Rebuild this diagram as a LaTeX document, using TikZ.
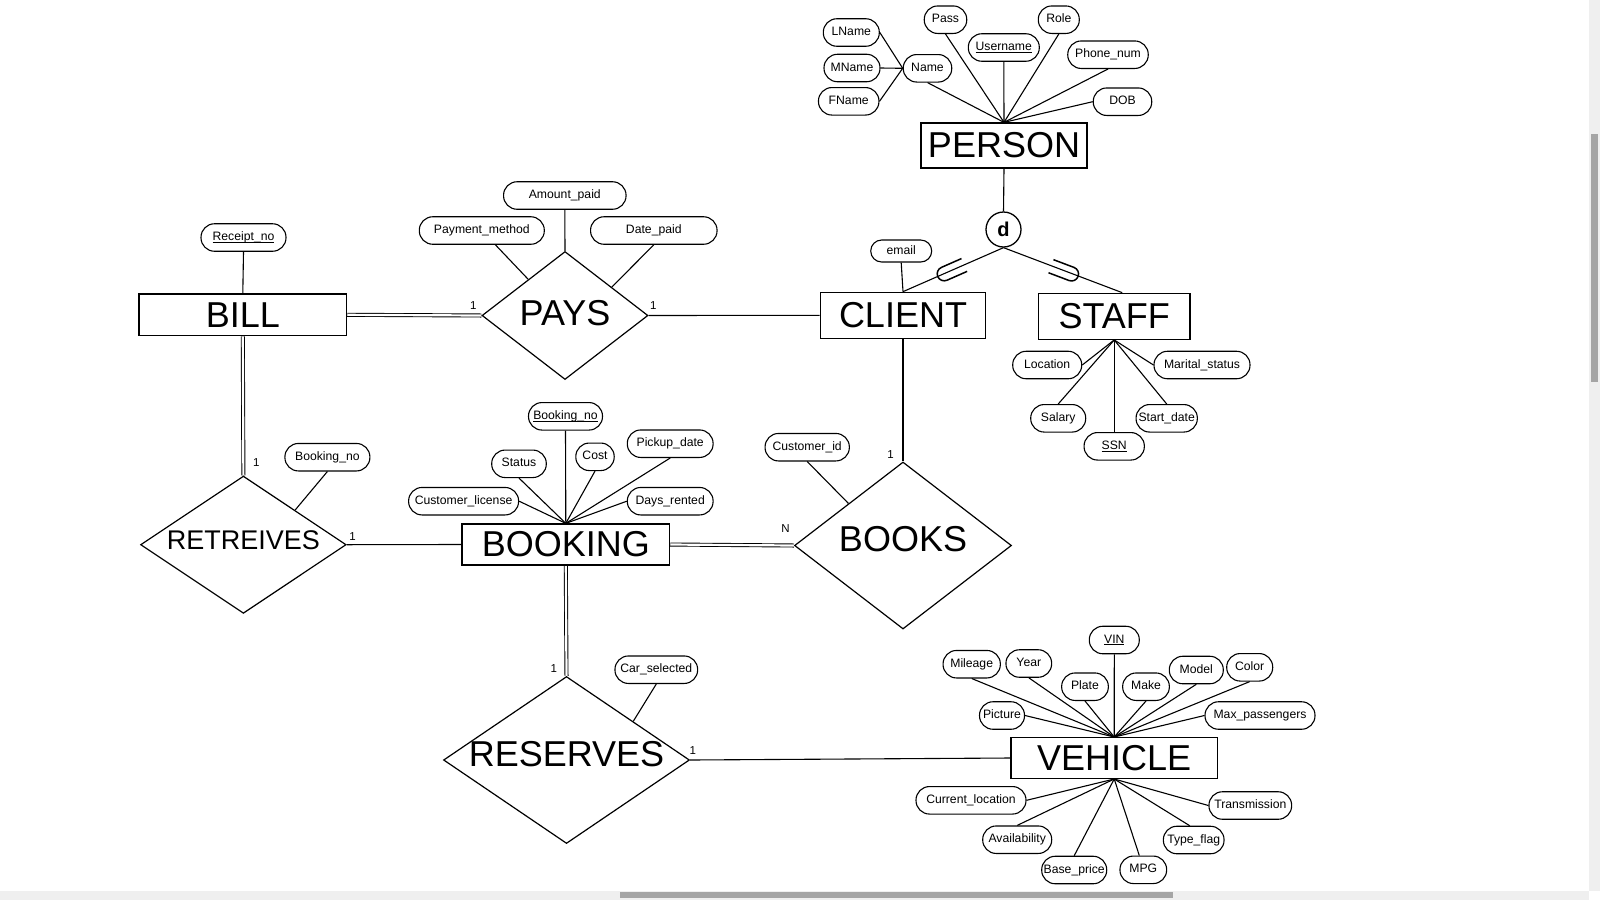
\documentclass[tikz,border=0pt]{standalone}
\usepackage{fontspec}
\setmainfont{Liberation Sans}
\usetikzlibrary{shapes.geometric,calc}
\pgfdeclarelayer{background}
\pgfsetlayers{background,main}
\newsavebox\ulbox
\newcommand\myul[1]{\sbox\ulbox{#1}\rlap{\rule[-2pt]{\wd\ulbox}{0.8pt}}\usebox\ulbox}
\newcommand\attrfont{\fontsize{12.2}{14}\selectfont}
\newcommand\bigfont{\fontsize{36}{40}\selectfont}
\newcommand\retfont{\fontsize{27}{30}\selectfont}
\newcommand\rz[2]{\raisebox{#1}[\height][\depth]{#2}}
\definecolor{sbtrack}{HTML}{EFEFEF}
\definecolor{sbthumb}{HTML}{A5A5A5}
\tikzset{
  attr/.style={draw, fill=white, rectangle, rounded corners=13.5pt, minimum height=27.5pt,
    inner xsep=1pt, inner ysep=0pt, text height=9pt, text depth=3pt, font=\attrfont, line width=1.1pt},
  entity/.style={draw, fill=white, rectangle, inner sep=0pt, font=\bigfont, line width=1.3pt},
  rel/.style={draw, fill=white, diamond, inner sep=0pt, font=\bigfont, line width=1.2pt},
  conn/.style={line width=1.1pt},
  dbl/.style={double, double distance=2.2pt, line width=0.9pt},
  card/.style={font=\fontsize{11.5}{12}\selectfont, inner sep=0pt},
  usym/.style={line width=1.5pt},
}
\begin{document}
\begin{tikzpicture}[x=1pt, y=-1pt]
\useasboundingbox (0,0) rectangle (1600,900);

% ---------- PERSON ----------
\node[entity, minimum width=166pt, minimum height=45pt] (person) at (1004,145.5) {PERSON};
\node[attr, minimum width=56pt] (lname) at (851.3,32.5) {LName};
\node[attr, minimum width=56pt] (mname) at (852,68) {MName};
\node[attr, minimum width=60.5pt] (fname) at (848.7,101.3) {FName};
\node[attr, minimum width=48.5pt] (name) at (927.5,68.3) {Name};
\node[attr, minimum width=42.5pt] (pass) at (945.5,19.7) {Pass};
\node[attr, minimum width=71pt] (uname) at (1003.8,47.5) {\myul{Username}};
\node[attr, minimum width=41pt] (role) at (1058.8,19.7) {Role};
\node[attr, minimum width=80.5pt] (phone) at (1108,54.7) {Phone\_num};
\node[attr, minimum width=58.5pt] (dob) at (1122.5,101.7) {DOB};

\node[circle, draw, fill=white, minimum size=35pt, inner sep=0pt, line width=1.3pt,
  font=\fontsize{20}{22}\selectfont\bfseries] (dnode) at (1003.5,229.5) {d};

% ---------- CLIENT / STAFF ----------
\node[entity, minimum width=165.5pt, minimum height=46pt] (client) at (903,315.3) {CLIENT};
\node[attr, minimum width=61pt, minimum height=22pt, rounded corners=11pt] (email) at (901.2,251) {email};
\node[entity, minimum width=151.7pt, minimum height=46pt] (staff) at (1114.2,316.3) {STAFF};
\node[attr, minimum width=69pt] (loc) at (1047.2,365) {Location};
\node[attr, minimum width=96pt] (marital) at (1202,365) {Marital\_status};
\node[attr, minimum width=55pt] (salary) at (1058.2,418.3) {Salary};
\node[attr, minimum width=61.3pt] (start) at (1166.7,418.3) {Start\_date};
\node[attr, minimum width=60.3pt] (ssn) at (1114.2,446.3) {\myul{SSN}};

% ---------- BILL / PAYS ----------
\node[entity, minimum width=207.6pt, minimum height=41.7pt] (bill) at (242.8,314.8) {BILL};
\node[attr, minimum width=85pt] (receipt) at (243.5,237.5) {\myul{Receipt\_no}};
\node[rel, aspect=1.3, minimum width=166pt, minimum height=128pt] (pays) at (565,315.5) {\rz{2pt}{PAYS}};
\node[attr, minimum width=122.5pt] (amount) at (564.8,195.5) {Amount\_paid};
\node[attr, minimum width=125pt] (pmethod) at (481.8,230.5) {Payment\_method};
\node[attr, minimum width=126.5pt] (dpaid) at (653.8,230.5) {Date\_paid};

% ---------- RETREIVES / BOOKING ----------
\node[rel, aspect=1.5, minimum width=205.6pt, minimum height=137.3pt, font=\retfont] (ret) at (243.4,544.7) {\rz{4.5pt}{RETREIVES}};
\node[attr, minimum width=85pt] (rbno) at (327.4,457.2) {Booking\_no};
\node[entity, minimum width=207.6pt, minimum height=41pt] (booking) at (565.8,544.5) {BOOKING};
\node[attr, minimum width=74pt] (bno) at (565.5,416.3) {\myul{Booking\_no}};
\node[attr, minimum width=54.6pt] (status) at (519,463.8) {Status};
\node[attr, minimum width=38.4pt] (cost) at (595,456.8) {Cost};
\node[attr, minimum width=85.8pt] (pickup) at (670.2,443.7) {Pickup\_date};
\node[attr, minimum width=110pt] (clicense) at (463.6,501.2) {Customer\_license};
\node[attr, minimum width=85.8pt] (days) at (670.2,501.2) {Days\_rented};

% ---------- BOOKS ----------
\node[rel, aspect=1.3, minimum width=217pt, minimum height=167pt] (books) at (903,545.5) {\rz{6pt}{BOOKS}};
\node[attr, minimum width=84.3pt] (cid) at (807.2,447.2) {Customer\_id};

% ---------- RESERVES / VEHICLE ----------
\node[rel, aspect=1.47, minimum width=246pt, minimum height=167pt] (res) at (566.5,760) {\rz{6pt}{RESERVES}};
\node[attr, minimum width=82.7pt] (car) at (656.3,669.7) {Car\_selected};
\node[entity, minimum width=206.3pt, minimum height=40.7pt] (vehicle) at (1114.2,758) {VEHICLE};
\node[attr, minimum width=50pt] (vin) at (1114.3,640) {\myul{VIN}};
\node[attr, minimum width=57.3pt] (mileage) at (971.7,664.2) {Mileage};
\node[attr, minimum width=45.7pt] (year) at (1028.8,663.5) {Year};
\node[attr, minimum width=46.7pt] (plate) at (1085,686.7) {Plate};
\node[attr, minimum width=46.7pt] (make) at (1146,686.7) {Make};
\node[attr, minimum width=54pt] (model) at (1196.3,670) {Model};
\node[attr, minimum width=46pt] (color) at (1249.7,667.3) {Color};
\node[attr, minimum width=45pt] (picture) at (1002,715.5) {Picture};
\node[attr, minimum width=110pt] (maxp) at (1260,715.5) {Max\_passengers};
\node[attr, minimum width=110pt] (curloc) at (971,800.3) {Current\_location};
\node[attr, minimum width=69pt] (avail) at (1017.2,839.7) {Availability};
\node[attr, minimum width=65pt] (bprice) at (1074.2,870) {Base\_price};
\node[attr, minimum width=46.7pt] (mpg) at (1143.3,869.8) {MPG};
\node[attr, minimum width=60.7pt] (tflag) at (1193.7,840) {Type\_flag};
\node[attr, minimum width=82.7pt] (trans) at (1250.3,805.5) {Transmission};

% ---------- cardinalities ----------
\node[card] (c1) at (473.3,305.5) {1};
\node[card] (c2) at (653.2,305.5) {1};
\node[card] (c3) at (256.3,462.5) {1};
\node[card] (c4) at (352.5,537) {1};
\node[card] (c5) at (785.5,529) {N};
\node[card] (c6) at (890.5,455) {1};
\node[card] (c7) at (553.8,668.8) {1};
\node[card] (c8) at (692.7,750.2) {1};

\coordinate (staffin) at ($(staff.north)+(8,0)$);

% ---------- connectors ----------
\begin{pgfonlayer}{background}
\fill[white] (0,0) rectangle (1600,900);
\draw[conn] (lname.east) -- (name.west);
\draw[conn] (mname.east) -- (name.west);
\draw[conn] (fname.east) -- (name.west);
\draw[conn] (name.south) -- (person.north);
\draw[conn] (pass.south) -- (person.north);
\draw[conn] (uname.south) -- (person.north);
\draw[conn] (role.south) -- (person.north);
\draw[conn] (phone.south) -- (person.north);
\draw[conn] (dob.west) -- (person.north);
\draw[conn] (person.south) -- (dnode.north);
\draw[conn] (dnode.south) -- (client.north);
\draw[conn] (dnode.south) -- (staffin);
\draw[conn] (email.south) -- (client.north);
\draw[conn] (loc.east) -- (staff.south);
\draw[conn] (marital.west) -- (staff.south);
\draw[conn] (salary.north) -- (staff.south);
\draw[conn] (start.north) -- (staff.south);
\draw[conn] (ssn.north) -- (staff.south);

\draw[conn] (receipt.south) -- (bill.north);
\draw[dbl] (bill.east) -- (pays.west);
\draw[conn] (pays.east) -- (client.west);
\draw[conn] (amount.south) -- (pays.north);
\draw[conn] (pmethod.center) -- ($(pays.west)!0.56!(pays.north)$);
\draw[conn] (dpaid.south) -- ($(pays.north)!0.56!(pays.east)$);

\draw[dbl] (bill.south) -- (ret.north);
\draw[conn] (rbno.south) -- ($(ret.north)!0.5!(ret.east)$);
\draw[conn] (ret.east) -- (booking.west);
\draw[conn] (bno.south) -- (booking.north);
\draw[conn] (status.south) -- (booking.north);
\draw[conn] (cost.south) -- (booking.north);
\draw[conn] (pickup.south) -- (booking.north);
\draw[conn] (clicense.east) -- (booking.north);
\draw[conn] (days.west) -- (booking.north);

\draw[dbl] (booking.east) -- (books.west);
\draw[conn] (client.south) -- (books.north);
\draw[conn] (cid.south) -- ($(books.west)!0.5!(books.north)$);

\draw[dbl] (booking.south) -- (res.north);
\draw[conn] (car.south) -- ($(res.north)!0.54!(res.east)$);
\draw[conn] (res.east) -- (vehicle.west);

\foreach \a in {vin,mileage,year,plate,make,model,color}
  \draw[conn] (\a.south) -- (vehicle.north);
\draw[conn] (picture.east) -- (vehicle.north);
\draw[conn] (maxp.west) -- (vehicle.north);
\draw[conn] (curloc.east) -- (vehicle.south);
\draw[conn] (avail.north) -- (vehicle.south);
\draw[conn] (bprice.north) -- (vehicle.south);
\draw[conn] ($(mpg.north)+(-4,0)$) -- (vehicle.south);
\draw[conn] ($(tflag.north)+(-4,0)$) -- (vehicle.south);
\draw[conn] (trans.west) -- (vehicle.south);
\end{pgfonlayer}

% ---------- subset symbols ----------
\begin{scope}[shift={(950.6,271)}, rotate=23.75]
  \draw[usym] (15,7) -- (-7,7) arc[start angle=90, end angle=270, radius=7] -- (15,-7);
\end{scope}
\begin{scope}[shift={(1065,271.5)}, rotate=159.3]
  \draw[usym] (15,7) -- (-7,7) arc[start angle=90, end angle=270, radius=7] -- (15,-7);
\end{scope}

% ---------- scrollbars ----------
\fill[sbtrack] (1589,0) rectangle (1600,891);
\fill[sbtrack] (0,891) rectangle (1589,900);
\fill[sbthumb] (1591,134) rectangle (1598,382);
\fill[sbthumb] (620,892) rectangle (1173,898);
\end{tikzpicture}
\end{document}
